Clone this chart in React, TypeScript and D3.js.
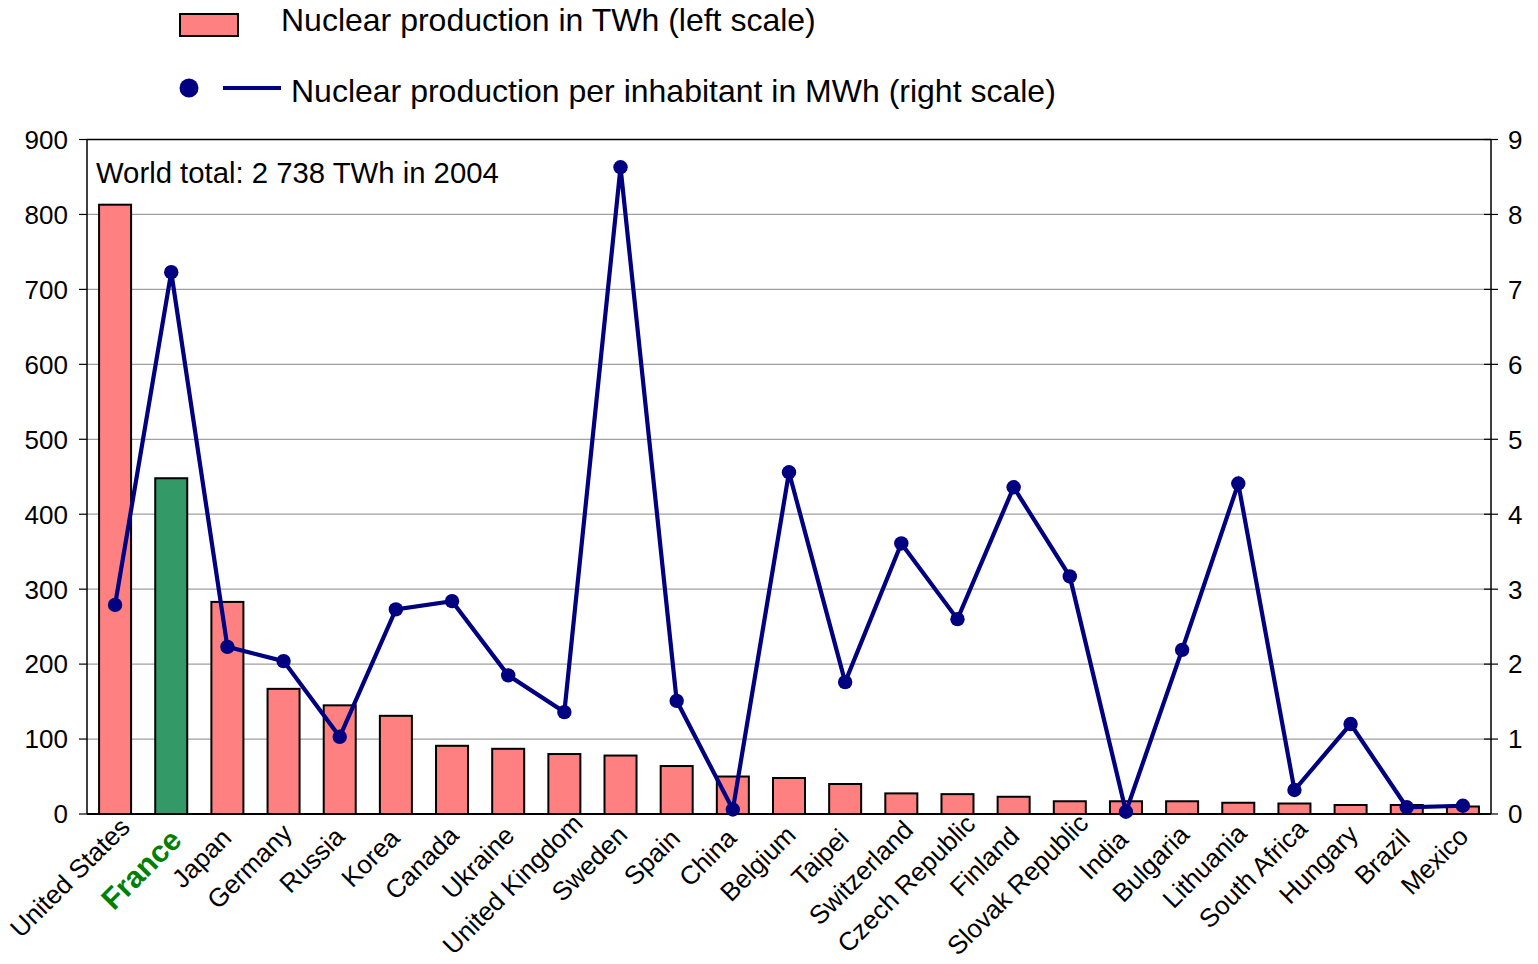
import React from "react";
import * as d3 from "d3";

const countries = ["United States","France","Japan","Germany","Russia","Korea","Canada","Ukraine","United Kingdom","Sweden","Spain","China","Belgium","Taipei","Switzerland","Czech Republic","Finland","Slovak Republic","India","Bulgaria","Lithuania","South Africa","Hungary","Brazil","Mexico"];
const productionTWh = [813,448,283,167,145,131,91,87,80,78,64,50,48,40,27.5,26.5,23,17,17,17,15,14,12,12,10];
const perInhabitantMWh = [2.79,7.23,2.23,2.04,1.03,2.73,2.84,1.85,1.36,8.63,1.51,0.06,4.56,1.76,3.61,2.6,4.36,3.17,0.03,2.19,4.41,0.32,1.2,0.09,0.11];
const leftTicks = [0,100,200,300,400,500,600,700,800,900];
const rightTicks = [0,1,2,3,4,5,6,7,8,9];
const highlight = "France";

const FONT = "'Liberation Sans', Arial, sans-serif";

let measureCtx: CanvasRenderingContext2D | null = null;
function textWidth(s: string, size: number): number {
  try {
    if (!measureCtx) measureCtx = document.createElement("canvas").getContext("2d");
    if (measureCtx) {
      measureCtx.font = `${size}px 'Liberation Sans', Arial, sans-serif`;
      return measureCtx.measureText(s).width;
    }
  } catch (e) {}
  return s.length * size * 0.5;
}

export default function App() {
  const W = 1538, H = 964;
  const x0 = 87, x1 = 1491, yTop = 139.5, yBot = 814;
  const x = d3.scaleBand<string>().domain(countries).range([x0, x1]).paddingInner(0.43).paddingOuter(0.215);
  const yL = d3.scaleLinear().domain([0, 900]).range([yBot, yTop]);
  const yR = d3.scaleLinear().domain([0, 9]).range([yBot, yTop]);
  const cx = (c: string) => (x(c) as number) + x.bandwidth() / 2;
  const line = d3.line<number>().x((_, i) => cx(countries[i])).y((d) => yR(d));

  return (
    <svg width={W} height={H} style={{ position: "absolute", left: 0, top: 0, fontFamily: FONT }}>
      <rect x={0} y={0} width={W} height={H} fill="#fff" />
      {/* Legend */}
      <rect x={180} y={14} width={58} height={22} fill="#FF8080" stroke="#000" strokeWidth={2} />
      <text x={281} y={31} fontSize={32} fill="#000">Nuclear production in TWh (left scale)</text>
      <circle cx={189} cy={88} r={9.5} fill="#000080" />
      <line x1={223} x2={281} y1={88} y2={88} stroke="#000080" strokeWidth={4} />
      <text x={291} y={102} fontSize={32} fill="#000">Nuclear production per inhabitant in MWh (right scale)</text>

      {/* gridlines */}
      {leftTicks.map((t) => (
        <line key={"g" + t} x1={x0} x2={x1} y1={yL(t)} y2={yL(t)} stroke={t === 900 ? "#000" : "#a0a0a0"} strokeWidth={t === 900 ? 1.5 : 1.2} />
      ))}

      {/* bars */}
      {countries.map((c, i) => (
        <rect key={c} x={x(c)} y={yL(productionTWh[i])} width={x.bandwidth()} height={yBot - yL(productionTWh[i])}
          fill={c === highlight ? "#339966" : "#FF8080"} stroke="#000" strokeWidth={2} />
      ))}

      {/* axes */}
      <line x1={x0} x2={x0} y1={yTop} y2={yBot} stroke="#000" strokeWidth={1.5} />
      <line x1={x1} x2={x1} y1={yTop} y2={yBot} stroke="#000" strokeWidth={1.5} />
      <line x1={x0} x2={x1} y1={yBot} y2={yBot} stroke="#000" strokeWidth={2} />
      {leftTicks.map((t) => (
        <g key={"l" + t}>
          <line x1={x0 - 8} x2={x0} y1={yL(t)} y2={yL(t)} stroke="#000" strokeWidth={1.2} />
          <text x={68} y={yL(t)} dy="0.36em" textAnchor="end" fontSize={26} fill="#000">{t}</text>
        </g>
      ))}
      {rightTicks.map((t) => (
        <g key={"r" + t}>
          <line x1={x1 - 7} x2={x1 + 7} y1={yR(t)} y2={yR(t)} stroke="#000" strokeWidth={1.2} />
          <text x={1508} y={yR(t)} dy="0.36em" textAnchor="start" fontSize={26} fill="#000">{t}</text>
        </g>
      ))}

      {/* line series */}
      <path d={line(perInhabitantMWh) || ""} fill="none" stroke="#000080" strokeWidth={4.2} strokeLinejoin="miter" />
      {perInhabitantMWh.map((v, i) => (
        <circle key={"d" + i} cx={cx(countries[i])} cy={yR(v)} r={7.2} fill="#000080" />
      ))}

      {/* annotation */}
      <text x={96} y={183} fontSize={29.3} fill="#000">World total: 2 738 TWh in 2004</text>

      {/* category labels */}
      {countries.map((c) => {
        const isH = c === highlight;
        let px: number, py: number;
        if (isH) {
          px = cx(c) + 12;
          py = 842;
        } else {
          const s = -3.4 + 0.126 * textWidth(c, 26);
          px = cx(c) + s;
          py = 845 - s;
        }
        return (
          <text key={"t" + c} transform={`translate(${px},${py}) rotate(-45)`} textAnchor="end"
            fontSize={isH ? 30 : 26} fontWeight={isH ? "bold" : "normal"} fill={isH ? "#008000" : "#000"}>{c}</text>
        );
      })}
    </svg>
  );
}
